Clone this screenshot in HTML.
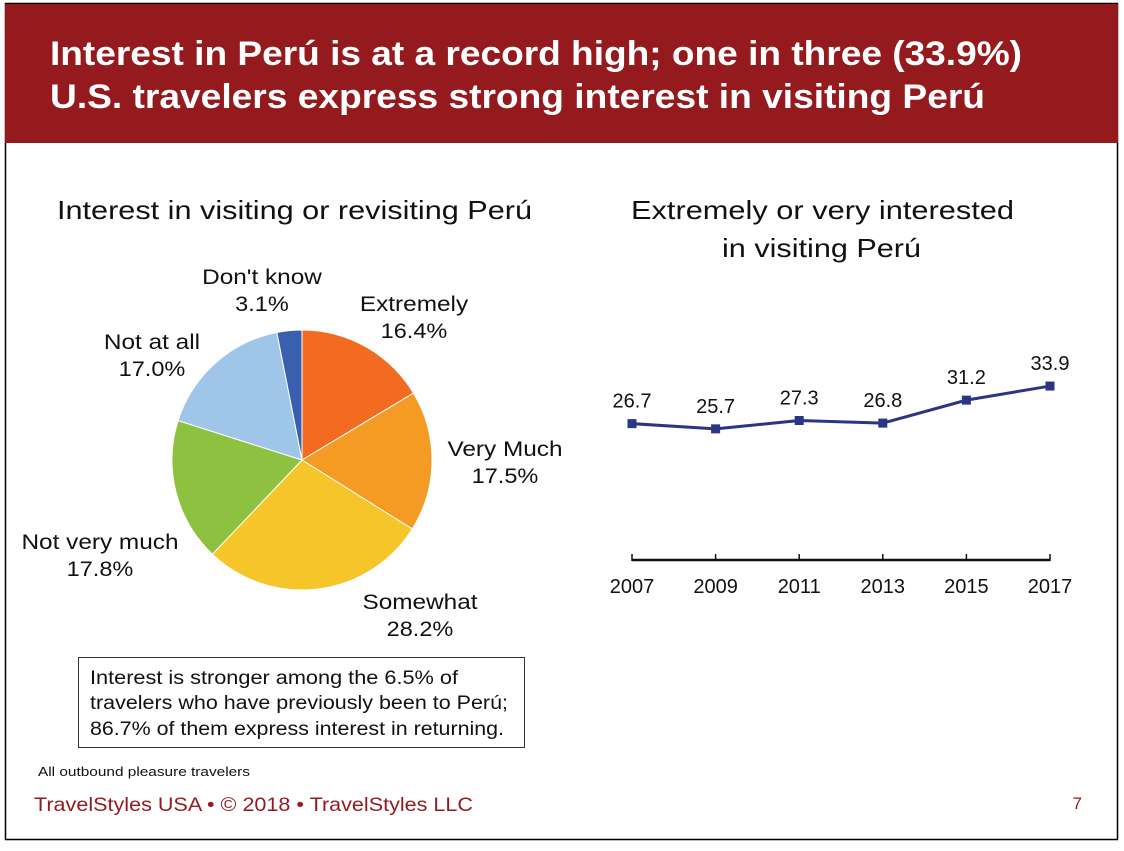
<!DOCTYPE html>
<html><head><meta charset="utf-8"><style>
body{margin:0;width:1124px;height:846px;background:#fff;font-family:"Liberation Sans",sans-serif;overflow:hidden}
svg text{font-family:"Liberation Sans",sans-serif}
</style></head><body>
<svg width="1124" height="846">
<rect x="5.5" y="3.5" width="1112" height="836" fill="#fff" stroke="#000" stroke-width="1.5"/>
<rect x="5" y="4" width="1113" height="139" fill="#951a1e"/>
<text x="50" y="65" fill="#fff" font-size="34" font-weight="bold" textLength="972" lengthAdjust="spacingAndGlyphs">Interest in Perú is at a record high; one in three (33.9%)</text>
<text x="50" y="108" fill="#fff" font-size="34" font-weight="bold" textLength="935" lengthAdjust="spacingAndGlyphs">U.S. travelers express strong interest in visiting Perú</text>
<text x="57" y="219" font-size="26" textLength="475" lengthAdjust="spacingAndGlyphs" fill="#111">Interest in visiting or revisiting Perú</text>
<text x="631" y="219" font-size="26" textLength="383" lengthAdjust="spacingAndGlyphs" fill="#111">Extremely or very interested</text>
<text x="722" y="257" font-size="26" textLength="199" lengthAdjust="spacingAndGlyphs" fill="#111">in visiting Perú</text>
<g id="pie"></g>
<g id="line"></g>
<rect x="78.5" y="657.5" width="446" height="90" fill="#fff" stroke="#333"/>
<text x="90" y="684" font-size="19" textLength="368" lengthAdjust="spacingAndGlyphs" fill="#111">Interest is stronger among the 6.5% of</text>
<text x="90" y="709" font-size="19" textLength="418" lengthAdjust="spacingAndGlyphs" fill="#111">travelers who have previously been to Perú;</text>
<text x="90" y="735" font-size="19" textLength="414" lengthAdjust="spacingAndGlyphs" fill="#111">86.7% of them express interest in returning.</text>
<text x="38" y="776" font-size="13" textLength="212" lengthAdjust="spacingAndGlyphs" fill="#111">All outbound pleasure travelers</text>
<text x="34" y="811" font-size="19.5" textLength="439" lengthAdjust="spacingAndGlyphs" fill="#951a1e">TravelStyles USA • © 2018 • TravelStyles LLC</text>
<text x="1082" y="809" font-size="17" fill="#951a1e" text-anchor="end">7</text>
</svg>
<script>
const sliceLabels=["Extremely","Very Much","Somewhat","Not very much","Not at all","Don't know"];
const sliceValues=[16.4,17.5,28.2,17.8,17.0,3.1];
const sliceColors=["#f26b21","#f59a23","#f5c52a","#8dc13f","#9fc5e8","#3a5fae"];
const labelPos=[[414,311],[505,456],[420,609],[100,549],[152,349],[262,284]];
const years=["2007","2009","2011","2013","2015","2017"];
const values=[26.7,25.7,27.3,26.8,31.2,33.9];
const NS="http://www.w3.org/2000/svg";
function mk(t,a,p){const e=document.createElementNS(NS,t);for(const k in a)e.setAttribute(k,a[k]);p.appendChild(e);return e;}
function stretch(t,k){const w=t.getComputedTextLength();t.setAttribute('textLength',w*k);t.setAttribute('lengthAdjust','spacingAndGlyphs');}
const pie=document.getElementById('pie');
const cx=302,cy=460,r=130;
const tot=sliceValues.reduce((a,b)=>a+b,0);
let ang=-Math.PI/2;
sliceValues.forEach((v,i)=>{
 const a2=ang+v/tot*2*Math.PI;
 const large=(a2-ang)>Math.PI?1:0;
 const d=`M${cx},${cy}L${cx+r*Math.cos(ang)},${cy+r*Math.sin(ang)}A${r},${r} 0 ${large} 1 ${cx+r*Math.cos(a2)},${cy+r*Math.sin(a2)}Z`;
 const p=mk('path',{d:d,fill:sliceColors[i],stroke:'#fff','stroke-width':1},pie);
 
 
 ang=a2;
 const [lx,ly]=labelPos[i];
 const t1=mk('text',{x:lx,y:ly,'font-size':21,'text-anchor':'middle',fill:'#111'},pie);
 t1.textContent=sliceLabels[i];
 
 
 stretch(t1,1.16);
 const t2=mk('text',{x:lx,y:ly+27,'font-size':21,'text-anchor':'middle',fill:'#111'},pie);
 t2.textContent=v.toFixed(1)+'%';
 
 
 stretch(t2,1.12);
});
const lg=document.getElementById('line');
const x0=632,x1=1050,yBase=563,ys=5.22;
const X=i=>x0+i*(x1-x0)/(years.length-1);
const Y=v=>yBase-v*ys;
const ax=mk('line',{x1:x0,y1:560,x2:x1,y2:560,stroke:'#111','stroke-width':2.5},lg);


years.forEach((y,i)=>{
 const tk=mk('line',{x1:X(i),y1:554,x2:X(i),y2:561,stroke:'#111','stroke-width':1.5},lg);
 
 
 const t=mk('text',{x:X(i),y:593,'font-size':20,'text-anchor':'middle',fill:'#111'},lg);
 t.textContent=y;
 
 
});
const pl=mk('polyline',{points:values.map((v,i)=>X(i)+','+Y(v)).join(' '),fill:'none',stroke:'#2b3585','stroke-width':3},lg);


values.forEach((v,i)=>{
 const m=mk('rect',{x:X(i)-4.5,y:Y(v)-4.5,width:9,height:9,fill:'#2b3585'},lg);
 
 
 const t=mk('text',{x:X(i),y:Y(v)-16,'font-size':20,'text-anchor':'middle',fill:'#111'},lg);
 t.textContent=v.toFixed(1);
 
 
});
</script>
</body></html>
